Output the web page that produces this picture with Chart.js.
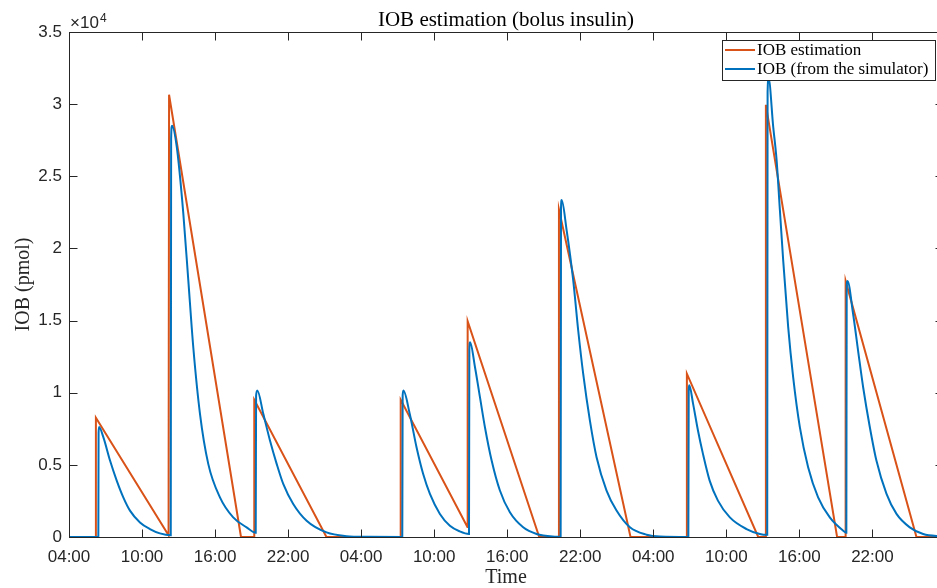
<!DOCTYPE html>
<html>
<head>
<meta charset="utf-8">
<title>IOB estimation (bolus insulin)</title>
<script src="https://cdn.jsdelivr.net/npm/chart.js@4.4.1/dist/chart.umd.min.js"></script>
<style>
  html, body { margin: 0; padding: 0; background: #fff; overflow: hidden; }
  canvas { display: block; }
</style>
</head>
<body>
<canvas id="chart" width="943" height="588"></canvas>
<script>
// time is in hours after 04:00 of the first day, IOB in pmol
const estTime = [0, 2.19, 2.21, 8.18, 8.22, 14.13, 15.2, 15.22, 21.15, 27.23, 27.25, 32.73, 32.75,
  38.63, 40.23, 40.25, 46.13, 50.74, 50.76, 56.62, 57.23, 57.25, 63.1, 63.78, 63.8, 69.62, 71.8];
const estIOB = [0, 0, 8260, 120, 30650, 0, 0, 9510, 0, 0, 9510, 700, 14950,
  0, 0, 22700, 0, 0, 11320, 0, 0, 29950, 0, 0, 17750, 0, 0];

const simTime = [0, 2.41, 2.43, 2.47, 2.82, 3.37, 3.92, 4.46, 5.01, 5.83, 6.65, 7.47,
  8.36, 8.39, 8.46, 8.85, 9.39, 9.8, 10.21, 10.76, 11.44, 12.4, 13.49, 14.59,
  15.34, 15.37, 15.47, 15.96, 16.51, 17.06, 17.6, 18.42, 19.52, 21.16, 22.8, 24.5,
  27.38, 27.41, 27.47, 27.99, 28.55, 29.09, 29.65, 30.47, 31.29, 32.1,
  32.86, 32.89, 32.95, 33.35, 33.76, 34.17, 34.72, 35.4, 36.22, 37.31, 38.41, 40.05,
  40.39, 40.42, 40.47, 40.88, 41.42, 41.83, 42.24, 42.79, 43.34, 44.16, 44.98, 46.08, 47.45, 48.54,
  50.88, 50.91, 50.96, 51.26, 51.67, 52.08, 52.63, 53.31, 54.29, 55.66, 56.75,
  57.36, 57.39, 57.47, 57.85, 58.13, 58.4, 58.67, 59.08, 59.49, 60.04, 60.72, 61.54, 62.5, 63.6,
  63.86, 63.89, 63.95, 64.41, 64.82, 65.24, 65.79, 66.33, 67.16, 67.98, 69.07, 70.17, 71.8];
const simIOB = [0, 0, 7200, 7620, 6920, 5300, 3910, 2750, 1830, 1010, 550, 250,
  120, 27600, 28500, 27050, 22430, 17800, 13150, 8540, 5070, 2750, 1360, 670,
  300, 9800, 10160, 8540, 6690, 5070, 3680, 2290, 1130, 320, 60, 10,
  0, 9800, 10150, 8540, 6220, 4380, 2990, 1600, 780, 390,
  210, 13000, 13500, 11780, 9690, 7610, 5300, 3220, 1710, 670, 210, 20,
  10, 22800, 23350, 21270, 17800, 14330, 11320, 8080, 5530, 3220, 1830, 670, 160, 30,
  0, 10200, 10510, 9280, 7380, 5760, 3910, 2520, 1360, 550, 210,
  150, 30800, 31800, 28440, 26130, 22660, 19190, 14560, 11080, 7610, 4830, 2750, 1360, 440,
  300, 17300, 17750, 15490, 12940, 10380, 7610, 5300, 2990, 1600, 670, 210, 30];

const timeTicks = ['04:00', '10:00', '16:00', '22:00', '04:00', '10:00', '16:00', '22:00',
  '04:00', '10:00', '16:00', '22:00'];
const yTicks = ['0', '0.5', '1', '1.5', '2', '2.5', '3', '3.5'];

const seriesNames = ['IOB estimation', 'IOB (from the simulator)'];
const seriesColors = ['#D95319', '#0072BD'];

const axisColor = '#262626';
const sansFont = "'Liberation Sans', Arial, sans-serif";
const serifFont = "'Liberation Serif', 'Times New Roman', serif";

// MATLAB style box, inward ticks, title, exponent and legend
const matlabLook = {
  id: 'matlabLook',
  afterDraw(chart) {
    const { ctx, chartArea: a, scales: { x, y } } = chart;
    const L = Math.round(a.left) + 0.5, R = Math.round(a.right) + 0.5;
    const T = Math.round(a.top) + 0.5, B = Math.round(a.bottom) + 0.5;
    const tickLen = 8;
    ctx.save();
    ctx.strokeStyle = axisColor;
    ctx.lineWidth = 1;
    ctx.strokeRect(L, T, R - L, B - T);
    ctx.beginPath();
    x.ticks.forEach(t => {
      const px = Math.round(x.getPixelForValue(t.value)) + 0.5;
      ctx.moveTo(px, B); ctx.lineTo(px, B - tickLen);
      ctx.moveTo(px, T); ctx.lineTo(px, T + tickLen);
    });
    y.ticks.forEach(t => {
      const py = Math.round(y.getPixelForValue(t.value)) + 0.5;
      ctx.moveTo(L, py); ctx.lineTo(L + tickLen, py);
      ctx.moveTo(R, py); ctx.lineTo(R - tickLen, py);
    });
    ctx.stroke();

    // exponent above the y axis
    ctx.fillStyle = axisColor;
    ctx.textBaseline = 'alphabetic';
    ctx.textAlign = 'left';
    ctx.font = '17px ' + sansFont;
    ctx.fillText('\u00d710', 70, 28);
    ctx.font = '12px ' + sansFont;
    ctx.fillText('4', 100, 22);

    // title
    ctx.fillStyle = '#000';
    ctx.textAlign = 'center';
    ctx.font = '21px ' + serifFont;
    ctx.fillText('IOB estimation (bolus insulin)', (a.left + a.right) / 2, 26);

    // legend in the north-east corner
    const boxL = 722.5, boxT = 40.5, boxW = 213, boxH = 40;
    ctx.fillStyle = '#fff';
    ctx.fillRect(boxL, boxT, boxW, boxH);
    ctx.strokeStyle = axisColor;
    ctx.strokeRect(boxL, boxT, boxW, boxH);
    ctx.font = '17px ' + serifFont;
    ctx.textAlign = 'left';
    ctx.textBaseline = 'middle';
    seriesNames.forEach((name, i) => {
      const ly = 50 + i * 19;
      ctx.strokeStyle = seriesColors[i];
      ctx.lineWidth = 2;
      ctx.beginPath();
      ctx.moveTo(725, ly); ctx.lineTo(755, ly);
      ctx.stroke();
      ctx.fillStyle = '#000';
      ctx.fillText(name, 757, ly + 1);
    });
    ctx.restore();
  }
};

const ctx = document.getElementById('chart').getContext('2d');
const myChart = new Chart(ctx, {
  type: 'line',
  data: {
    datasets: [
      {
        label: seriesNames[0],
        data: estTime.map((t, i) => ({ x: t, y: estIOB[i] })),
        borderColor: seriesColors[0],
        borderWidth: 2,
        pointRadius: 0,
        tension: 0,
        order: 1
      },
      {
        label: seriesNames[1],
        data: simTime.map((t, i) => ({ x: t, y: simIOB[i] })),
        borderColor: seriesColors[1],
        borderWidth: 2,
        pointRadius: 0,
        cubicInterpolationMode: 'monotone',
        order: 0
      }
    ]
  },
  options: {
    responsive: false,
    animation: false,
    layout: { padding: { top: 32, left: 0, right: 0, bottom: 0 } },
    plugins: {
      legend: { display: false },
      tooltip: { enabled: false }
    },
    scales: {
      x: {
        type: 'linear',
        min: 0,
        max: 71.8,
        afterBuildTicks: s => { s.ticks = timeTicks.map((_, i) => ({ value: i * 6 })); },
        afterFit: s => { s.height = 51; },
        grid: { display: false, drawTicks: false },
        border: { display: false },
        ticks: {
          padding: 10,
          maxRotation: 0,
          autoSkip: false,
          color: axisColor,
          font: { family: sansFont, size: 17 },
          callback: (v, i) => timeTicks[i]
        },
        title: {
          display: true,
          text: 'Time',
          color: axisColor,
          padding: { top: 0, bottom: -2 },
          font: { family: serifFont, size: 20 }
        }
      },
      y: {
        min: 0,
        max: 35000,
        afterBuildTicks: s => { s.ticks = yTicks.map((_, i) => ({ value: i * 5000 })); },
        afterFit: s => { s.width = 69; },
        grid: { display: false, drawTicks: false },
        border: { display: false },
        ticks: {
          padding: 7,
          color: axisColor,
          font: { family: sansFont, size: 17 },
          callback: (v, i) => yTicks[i]
        },
        title: {
          display: true,
          text: 'IOB (pmol)',
          color: axisColor,
          padding: { top: 12, bottom: 0 },
          font: { family: serifFont, size: 20 }
        }
      }
    }
  },
  plugins: [matlabLook]
});
</script>
</body>
</html>
